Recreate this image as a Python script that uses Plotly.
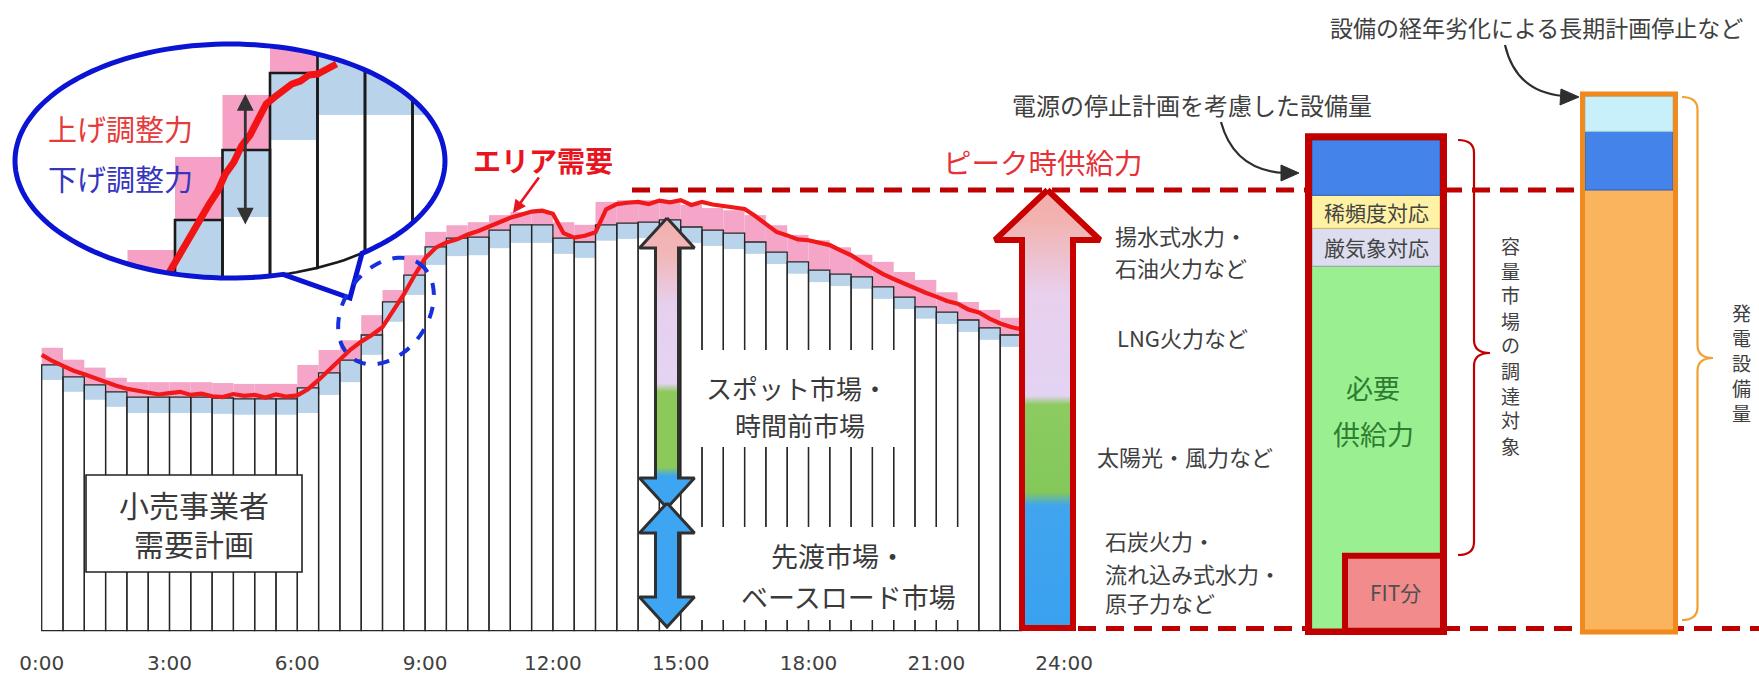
import math
import plotly.graph_objects as go

# ---------------------------------------------------------------- data
tick_hours = [0, 3, 6, 9, 12, 15, 18, 21, 24]
tick_labels = ["0:00", "3:00", "6:00", "9:00", "12:00", "15:00", "18:00", "21:00", "24:00"]

# 小売事業者 需要計画 (30-min blocks, % of peak supply)
plan_demand = [60.3, 57.6, 55.8, 54.2, 53.0, 53.0, 53.0, 53.0, 52.8, 52.6,
               52.6, 52.6, 55.1, 58.5, 61.4, 67.1, 74.6, 80.7, 87.1, 89.1,
               89.3, 90.9, 92.1, 92.1, 89.1, 88.2, 92.1, 92.5, 92.7, 93.2,
               91.6, 90.9, 90.2, 88.2, 85.9, 83.7, 81.8, 80.9, 80.3, 78.0,
               75.7, 73.5, 72.3, 70.5, 68.7, 67.1]
# 上げ調整力 (pink, above plan)
up_reserve = [3.9, 3.9, 3.9, 3.2, 3.4, 3.4, 3.4, 3.4, 3.4, 3.4,
              3.4, 3.4, 5.2, 5.2, 4.5, 4.5, 2.7, 4.5, 3.4, 2.9,
              3.4, 3.4, 2.9, 2.9, 3.6, 3.9, 5.2, 5.2, 5.0, 4.5,
              5.0, 5.0, 5.2, 6.1, 6.1, 6.1, 6.8, 6.1, 5.0, 5.7,
              5.7, 6.1, 4.5, 4.1, 4.1, 3.9]
# 下げ調整力 (light blue, below plan)
down_reserve = [3.4, 3.4, 3.4, 3.4, 3.6, 3.6, 3.6, 3.6, 3.6, 3.6,
                3.6, 3.6, 5.7, 5.0, 5.0, 4.5, 4.5, 4.5, 4.1, 4.1,
                4.1, 4.1, 4.1, 4.1, 3.6, 3.6, 3.6, 3.6, 3.6, 3.6,
                3.6, 3.6, 3.6, 2.7, 2.7, 2.7, 2.7, 2.7, 2.7, 2.7,
                2.7, 2.7, 2.7, 2.7, 2.7, 2.7]
# エリア需要 (every 15 min, 0:00 - 23:00)
area_demand = [62.6, 61.2, 60.1, 59.0, 58.2, 57.3, 56.4, 55.6, 54.9, 54.4,
               54.1, 53.6, 53.9, 54.2, 53.5, 53.8, 53.2, 53.0, 53.7, 53.3,
               53.5, 52.9, 53.6, 53.1, 53.4, 54.8, 56.9, 59.2, 61.7, 63.8,
               65.6, 67.1, 68.9, 72.6, 76.3, 80.6, 84.5, 86.9, 88.1, 88.8,
               89.9, 90.7, 91.7, 92.6, 93.7, 94.4, 95.1, 95.3, 94.6, 90.2,
               89.2, 89.6, 90.4, 95.6, 96.8, 97.1, 97.3, 96.8, 97.6, 97.2,
               97.7, 96.6, 97.3, 96.7, 96.4, 95.9, 95.7, 94.1, 92.2, 90.5,
               89.7, 88.8, 88.6, 88.0, 87.5, 86.3, 85.2, 83.7, 82.3, 80.9,
               79.8, 78.7, 77.8, 76.7, 75.8, 74.8, 74.2, 72.9, 72.2, 70.8,
               69.7, 68.9, 68.4]
peak_supply = 100.0

# 容量市場の調達対象 (stack from bottom)
cap_labels = ["必要供給力", "厳気象対応", "稀頻度対応", "停止計画分"]
cap_values = [82.7, 8.6, 7.5, 12.5]
fit_value = 17.0
# 発電設備量 (stack from bottom)
gen_labels = ["供給力", "停止計画分", "長期計画停止"]
gen_values = [100.0, 13.3, 7.9]

# magnified view inside the speech bubble
inset_bar_start = [6.5, 7.0, 7.5, 8.0, 8.5, 9.0, 9.5]
inset_plan = [58.5, 68.0, 75.0, 82.7, 86.5, 86.5, 86.5]
inset_up = [6.5, 6.3, 5.5, 6.0, 6.0, 6.0, 6.0]
inset_down = [6.7, 6.7, 6.7, 6.7, 8.0, 8.0, 8.0]
inset_demand_h = [6.93, 7.02, 7.10, 7.18, 7.27, 7.36, 7.45, 7.53, 7.62, 7.70,
                  7.79, 7.88, 7.96, 8.05, 8.14, 8.23, 8.32, 8.41, 8.50, 8.59, 8.70]
inset_demand_v = [62.6, 64.1, 65.3, 66.9, 68.1, 69.6, 70.9, 72.6, 73.8, 75.4,
                  76.5, 78.0, 79.6, 80.3, 80.9, 81.6, 81.9, 82.5, 82.6, 83.1, 83.6]

# ---------------------------------------------------------------- geometry
W, H = 1759, 675
MB = 40
PLOT_H = H - MB
X0_PX, PX_PER_H = 41.7, 42.6
BASE_PY, PX_PER_U = 630.7, 4.407
JP = "Noto Sans CJK JP"
DARK_RED = "#C00000"


def X(px):
    return (px - X0_PX) / PX_PER_H


def V(py):
    return (BASE_PY - py) / PX_PER_U


def PX(px):
    return px / W


def PY(py):
    return (PLOT_H - py) / PLOT_H


# inset axis mapping
IX0, IPXH, IPY0, IPYV = 175.0, 95.0, 300.0, 10.0
ix = lambda h: IX0 + (h - 7.0) * IPXH
iy = lambda v: IPY0 - (v - 60.0) * IPYV
ih = lambda px: 7.0 + (px - IX0) / IPXH
iv = lambda py: 60.0 + (IPY0 - py) / IPYV

ECX, ECY, ERX, ERY = 230.0, 161.0, 215.0, 117.0


def ell(t0, t1, n, cx=ECX, cy=ECY, rx=ERX, ry=ERY):
    out = []
    for i in range(n):
        t = math.radians(t0 + (t1 - t0) * i / (n - 1))
        out.append((cx + rx * math.cos(t), cy + ry * math.sin(t)))
    return out


CLIP = ell(0, 360, 181)[:-1]


def clip_poly(poly, clip):
    n = len(clip)
    area = sum(clip[i][0] * clip[(i + 1) % n][1] - clip[(i + 1) % n][0] * clip[i][1] for i in range(n))
    s = 1 if area > 0 else -1
    out = list(poly)
    for i in range(n):
        a, b = clip[i], clip[(i + 1) % n]

        def inside(p):
            return s * ((b[0] - a[0]) * (p[1] - a[1]) - (b[1] - a[1]) * (p[0] - a[0])) >= 0

        def inter(p, q):
            x1, y1 = p
            x2, y2 = q
            x3, y3 = a
            x4, y4 = b
            den = (x1 - x2) * (y3 - y4) - (y1 - y2) * (x3 - x4)
            t = ((x1 - x3) * (y3 - y4) - (y1 - y3) * (x3 - x4)) / den
            return (x1 + t * (x2 - x1), y1 + t * (y2 - y1))

        inp, out = out, []
        if not inp:
            break
        prev = inp[-1]
        for cur in inp:
            if inside(cur):
                if not inside(prev):
                    out.append(inter(prev, cur))
                out.append(cur)
            elif inside(prev):
                out.append(inter(prev, cur))
            prev = cur
    return out


def inset_rects(v0s, v1s, close=False):
    xs, ys = [], []
    for h0, a, b in zip(inset_bar_start, v0s, v1s):
        rect = [(ix(h0), iy(a)), (ix(h0 + 0.5), iy(a)), (ix(h0 + 0.5), iy(b)), (ix(h0), iy(b))]
        pts = clip_poly(rect, CLIP)
        if len(pts) < 3:
            continue
        if close:
            pts = pts + [pts[0]]
        xs += [ih(p[0]) for p in pts] + [None]
        ys += [iv(p[1]) for p in pts] + [None]
    return xs, ys


fig = go.Figure()

# ---------------------------------------------------------------- main chart
centers = [0.25 + 0.5 * i for i in range(len(plan_demand))]
fig.add_trace(go.Bar(x=centers, y=up_reserve, base=plan_demand, width=0.5,
                     marker=dict(color="#F5A6C8", line=dict(width=0)), hoverinfo="skip"))
fig.add_trace(go.Bar(x=centers, y=down_reserve, base=[p - d for p, d in zip(plan_demand, down_reserve)],
                     width=0.5, marker=dict(color="#B9D4EA", line=dict(width=0)), hoverinfo="skip"))
fig.add_trace(go.Bar(x=centers, y=plan_demand, width=0.5,
                     marker=dict(color="rgba(0,0,0,0)", line=dict(color="#262626", width=1.3)),
                     hoverinfo="skip"))
fig.add_trace(go.Scatter(x=[0.25 * i for i in range(len(area_demand))], y=area_demand, mode="lines",
                         line=dict(color="#F01818", width=4.2), hoverinfo="skip"))


def poly_trace(pts, line_color, line_width, grad=None, fill=None):
    xs = [X(p[0]) for p in pts] + [X(pts[0][0])]
    ys = [V(p[1]) for p in pts] + [V(pts[0][1])]
    kw = dict(x=xs, y=ys, mode="lines", fill="toself", line=dict(color=line_color, width=line_width),
              hoverinfo="skip")
    if grad is not None:
        kw["fillgradient"] = dict(type="vertical", colorscale=grad, start=min(ys), stop=max(ys))
    else:
        kw["fillcolor"] = fill
    return go.Scatter(**kw)


def block_arrow(cx, top, bottom, shaft, head, head_len, two_sided):
    pts = [(cx, top), (cx + head, top + head_len), (cx + shaft, top + head_len)]
    if two_sided:
        pts += [(cx + shaft, bottom - head_len), (cx + head, bottom - head_len), (cx, bottom),
                (cx - head, bottom - head_len), (cx - shaft, bottom - head_len)]
    else:
        pts += [(cx + shaft, bottom), (cx - shaft, bottom)]
    pts += [(cx - shaft, top + head_len), (cx - head, top + head_len)]
    return pts


spot_grad = [[0, "#3DA5F2"], [0.11, "#3DA5F2"], [0.14, "#8CC85A"], [0.40, "#8CC85A"],
             [0.43, "#E4D4F2"], [0.70, "#E6D0EE"], [0.88, "#F2B6B6"], [1, "#F2AFAF"]]
fig.add_trace(poly_trace(block_arrow(667, 218, 508, 11.5, 27.5, 30, True), "#303030", 3, grad=spot_grad))
fig.add_trace(poly_trace(block_arrow(667, 503, 627, 11.5, 27.5, 30, True), "#303030", 3, fill="#3DA5F2"))

big_grad = [[0, "#39A1F0"], [0.28, "#41A5EE"], [0.31, "#84C85A"], [0.51, "#8CCB60"],
            [0.53, "#E3D3F3"], [0.76, "#E8D0EE"], [0.93, "#F2B3B0"], [1, "#F2ADAA"]]
big_pts = [(1047.5, BASE_PY - peak_supply * PX_PER_U), (1100, 240), (1073, 240), (1073, 628),
           (1022, 628), (1022, 240), (995, 240)]
fig.add_trace(poly_trace(big_pts, "#C80000", 6, grad=big_grad))

# middle column (容量市場)
mid_h, mid_w = X(1376), 128 / PX_PER_H
cap_colors = ["#9AF090", "#DCDDEE", "#FFF2A4", "#4484EA"]
cap_lines = ["#7ACB70", "#9C9CB0", "#D8B860", "#2A5EB8"]
bases = [sum(cap_values[:i]) for i in range(len(cap_values))]
fig.add_trace(go.Bar(x=[mid_h] * len(cap_values), y=cap_values, base=bases, width=mid_w,
                     marker=dict(color=cap_colors, line=dict(color=cap_lines, width=1)), hoverinfo="skip"))
fig.add_trace(go.Bar(x=[X(1394.5)], y=[fit_value], width=99 / PX_PER_H,
                     marker=dict(color="#F28B8B", line=dict(color=DARK_RED, width=6)), hoverinfo="skip"))

# right column (発電設備量)
gen_h, gen_w = X(1629), 88 / PX_PER_H
gen_colors = ["#FBB45E", "#4484EA", "#C8F0FA"]
gen_lines = ["#FBB45E", "#2A5EB8", "#9CCAD6"]
gbases = [sum(gen_values[:i]) for i in range(len(gen_values))]
fig.add_trace(go.Bar(x=[gen_h] * len(gen_values), y=gen_values, base=gbases, width=gen_w,
                     marker=dict(color=gen_colors, line=dict(color=gen_lines, width=1)), hoverinfo="skip"))

# ---------------------------------------------------------------- inset (magnified view)
ux, uy = inset_rects(inset_plan, [p + u for p, u in zip(inset_plan, inset_up)])
fig.add_trace(go.Scatter(x=ux, y=uy, mode="lines", fill="toself", fillcolor="#F5A0C4",
                         line=dict(width=0), xaxis="x2", yaxis="y2", hoverinfo="skip"))
dx, dy = inset_rects([p - d for p, d in zip(inset_plan, inset_down)], inset_plan)
fig.add_trace(go.Scatter(x=dx, y=dy, mode="lines", fill="toself", fillcolor="#B9D3EA",
                         line=dict(width=0), xaxis="x2", yaxis="y2", hoverinfo="skip"))
bx, by = inset_rects([0] * len(inset_plan), inset_plan, close=True)
fig.add_trace(go.Scatter(x=bx, y=by, mode="lines", line=dict(color="#1A1A1A", width=2.6),
                         xaxis="x2", yaxis="y2", hoverinfo="skip"))
fig.add_trace(go.Scatter(x=inset_demand_h, y=inset_demand_v, mode="lines",
                         line=dict(color="#F21414", width=7), xaxis="x2", yaxis="y2", hoverinfo="skip"))

# ---------------------------------------------------------------- shapes
shapes = []


def rect_px(x0, y0, x1, y1, fill="white", line_color=None, lw=0):
    shapes.append(dict(type="rect", xref="paper", yref="paper", x0=PX(x0), x1=PX(x1), y0=PY(y1), y1=PY(y0),
                       fillcolor=fill, line=dict(color=line_color or fill, width=lw), layer="above"))


def path_px(pts, close=False):
    s = "M " + " L ".join(f"{PX(x):.5f},{PY(y):.5f}" for x, y in pts)
    return s + (" Z" if close else "")


# peak supply and base dashed lines
shapes.append(dict(type="line", xref="x", yref="y", x0=X(632), x1=X(1583), y0=peak_supply, y1=peak_supply,
                   line=dict(color=DARK_RED, width=5, dash="18px,10px"), layer="below"))
shapes.append(dict(type="line", xref="x", yref="y", x0=X(1022), x1=X(1759), y0=0.5, y1=0.5,
                   line=dict(color=DARK_RED, width=5, dash="18px,10px"), layer="below"))

# knock-outs behind market labels, retailer box
rect_px(700, 350, 905, 447)
rect_px(700, 527, 970, 620)
rect_px(86, 475, 302, 572, fill="white", line_color="#222222", lw=1.6)

# column outlines
shapes.append(dict(type="rect", xref="x", yref="y", x0=X(1308.5), x1=X(1443.5), y0=-0.3,
                   y1=sum(cap_values) + 0.8, line=dict(color=DARK_RED, width=7), layer="above"))
shapes.append(dict(type="rect", xref="x", yref="y", x0=X(1582.5), x1=X(1675.5), y0=-0.3,
                   y1=sum(gen_values) + 0.6, line=dict(color="#F08A1E", width=5), layer="above"))


def brace(x0, x1, yt, yb, ym, r, color):
    xm = (x0 + x1) / 2
    p = lambda x, y: f"{PX(x):.5f},{PY(y):.5f}"
    d = (f"M {p(x0, yt)} Q {p(xm, yt)} {p(xm, yt + r)} L {p(xm, ym - r)} Q {p(xm, ym)} {p(x1, ym)} "
         f"Q {p(xm, ym)} {p(xm, ym + r)} L {p(xm, yb - r)} Q {p(xm, yb)} {p(x0, yb)}")
    shapes.append(dict(type="path", xref="paper", yref="paper", path=d, line=dict(color=color, width=2.2),
                       layer="above"))


brace(1458, 1490, 140, 555, 353, 13, DARK_RED)
brace(1682, 1713, 97, 620, 358, 13, "#F2A030")


def curved_arrow(start, ctrl, end, tip, b1, b2):
    p = lambda x, y: f"{PX(x):.5f},{PY(y):.5f}"
    shapes.append(dict(type="path", xref="paper", yref="paper",
                       path=f"M {p(*start)} Q {p(*ctrl)} {p(*end)}",
                       line=dict(color="#2E2E2E", width=2.2), layer="above"))
    shapes.append(dict(type="path", xref="paper", yref="paper", path=path_px([tip, b1, b2], True),
                       fillcolor="#2E2E2E", line=dict(color="#2E2E2E", width=1), layer="above"))


curved_arrow((1221, 122), (1234, 170), (1284, 173), (1299, 173), (1281, 165), (1281, 181))
curved_arrow((1505, 45), (1516, 92), (1563, 96), (1579, 97), (1561, 89), (1560, 105))

# speech bubble (ellipse + tail) and dashed focus ellipse
tA = math.degrees(math.acos((283 - ECX) / ERX))
tB = math.degrees(math.acos((362 - ECX) / ERX))
bubble = ell(tA, tB + 360, 160) + [(350, 298)]
shapes.append(dict(type="path", xref="paper", yref="paper", path=path_px(bubble, True),
                   line=dict(color="#0A14D2", width=5), layer="above"))
phi = math.radians(-55)
dash_ell = []
for i in range(73):
    t = math.radians(i * 5)
    a, b = 58, 42
    dash_ell.append((386 + a * math.cos(t) * math.cos(phi) - b * math.sin(t) * math.sin(phi),
                     311 + a * math.cos(t) * math.sin(phi) + b * math.sin(t) * math.cos(phi)))
shapes.append(dict(type="path", xref="paper", yref="paper", path=path_px(dash_ell, True),
                   line=dict(color="#1530DC", width=4, dash="dash"), layer="above"))

# ---------------------------------------------------------------- text
annotations = []


def txt(s, px, py, size, color="#3A3A3A", xanchor="center"):
    annotations.append(dict(text=s, x=PX(px), y=PY(py), xref="paper", yref="paper", xanchor=xanchor,
                            yanchor="middle", showarrow=False,
                            font=dict(family=JP, size=size, color=color)))


def vtxt(s, px, py_top, pitch, size, color="#404040"):
    for k, ch in enumerate(s):
        txt(ch, px, py_top + k * pitch, size, color)


txt("<b>エリア需要</b>", 543, 160, 28, "#E8141E")
txt("ピーク時供給力", 1043, 162, 28.5, "#E53238")
txt("上げ調整力", 121, 128, 29, "#E63B3B")
txt("下げ調整力", 121, 178, 29, "#3535C0")
txt("スポット市場・", 797, 388, 26)
txt("時間前市場", 800, 425, 26)
txt("先渡市場・", 838, 555, 27)
txt("ベースロード市場", 848, 596, 27)
txt("小売事業者<br>需要計画", 194, 523, 30)
txt("揚水式水力・", 1113, 235, 22, "#404040", "left")
txt("石油火力など", 1113, 267, 22, "#404040", "left")
txt("LNG火力など", 1115, 337, 22, "#404040", "left")
txt("太陽光・風力など", 1095, 456, 22, "#404040", "left")
txt("石炭火力・", 1103, 540, 22, "#404040", "left")
txt("流れ込み式水力・", 1103, 573, 22, "#404040", "left")
txt("原子力など", 1103, 602, 22, "#404040", "left")
txt(cap_labels[2], 1376, 212, 21, "#444444")
txt(cap_labels[1], 1376, 247, 21, "#444444")
txt("必要", 1373, 388, 27, "#2E7D32")
txt("供給力", 1373, 433, 27, "#2E7D32")
txt("FIT分", 1395, 592, 21, "#505050")
vtxt("容量市場の調達対象", 1510, 245, 25, 19)
vtxt("発電設備量", 1741, 312, 25, 19)
txt("電源の停止計画を考慮した設備量", 1192, 104, 24, "#404040")
txt("設備の経年劣化による長期計画停止など", 1536, 27, 23, "#404040")

annotations.append(dict(text="", x=PX(513), y=PY(213), xref="paper", yref="paper", ax=27, ay=-37,
                        showarrow=True, arrowhead=2, arrowsize=1, arrowwidth=2.6, arrowcolor="#E8141E"))
annotations.append(dict(text="", x=7.74, y=80.6, ax=7.74, ay=67.4, xref="x2", yref="y2", axref="x2",
                        ayref="y2", showarrow=True, arrowhead=2, arrowside="end+start", arrowsize=1.2,
                        arrowwidth=2.8, arrowcolor="#333333"))

# ---------------------------------------------------------------- layout
fig.update_layout(
    width=W, height=H, margin=dict(l=0, r=0, t=0, b=MB, autoexpand=False),
    paper_bgcolor="white", plot_bgcolor="rgba(0,0,0,0)",
    showlegend=False, barmode="overlay",
    shapes=shapes, annotations=annotations,
    xaxis=dict(range=[X(0), X(W)], showgrid=False, zeroline=False, showline=False, automargin=False,
               tickmode="array", tickvals=tick_hours, ticktext=tick_labels, ticks="",
               tickfont=dict(family="DejaVu Sans", size=20, color="#404040"), ticklabelstandoff=14,
               fixedrange=True),
    yaxis=dict(range=[V(PLOT_H), V(0)], showgrid=False, zeroline=False, showline=False, automargin=False,
               showticklabels=False, fixedrange=True),
    xaxis2=dict(domain=[PX(10), PX(452)], range=[ih(10), ih(452)], anchor="y2", visible=False,
                fixedrange=True),
    yaxis2=dict(domain=[PY(305), PY(40)], range=[iv(305), iv(40)], anchor="x2", visible=False,
                fixedrange=True),
)

fig.write_html("out.html", config={"displayModeBar": False},
               post_script="document.body.style.margin='0';document.body.style.padding='0';"
                           "document.body.style.overflow='hidden';")
